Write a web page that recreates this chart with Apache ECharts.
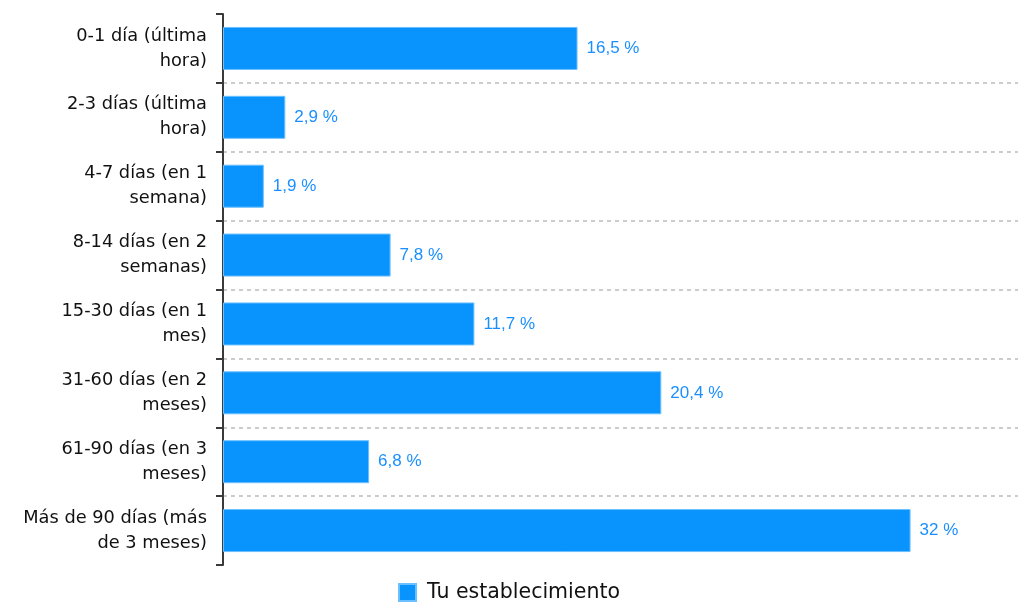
<!DOCTYPE html>
<html>
<head>
<meta charset="utf-8">
<script src="https://cdn.jsdelivr.net/npm/echarts@6/dist/echarts.min.js"></script>
<style>
  html, body { margin: 0; padding: 0; background: #fff; }
  #chart { width: 1018px; height: 603px; }
</style>
</head>
<body>
<div id="chart"></div>
<script>
// Time buckets (top to bottom) and share of bookings per bucket, in percent
const categories = [
  '0-1 día (última\nhora)',
  '2-3 días (última\nhora)',
  '4-7 días (en 1\nsemana)',
  '8-14 días (en 2\nsemanas)',
  '15-30 días (en 1\nmes)',
  '31-60 días (en 2\nmeses)',
  '61-90 días (en 3\nmeses)',
  'Más de 90 días (más\nde 3 meses)'
];
const values = [16.5, 2.9, 1.9, 7.8, 11.7, 20.4, 6.8, 32];
const seriesName = 'Tu establecimiento';

const chart = echarts.init(document.getElementById('chart'));

chart.setOption({
  animation: false,
  grid: { left: 223, right: 0, top: 14, bottom: 38 },
  legend: {
    top: 582,
    left: 'center',
    padding: 0,
    itemWidth: 17,
    itemHeight: 17,
    icon: 'rect',
    textStyle: {
      fontFamily: 'DejaVu Sans',
      fontSize: 20.5,
      color: '#111',
      padding: [0, 0, 0, 6]
    },
    data: [seriesName]
  },
  xAxis: {
    type: 'value',
    min: 0,
    max: 37,
    show: false,
    splitLine: { show: false }
  },
  yAxis: {
    type: 'category',
    inverse: true,
    data: categories,
    axisLine: { show: true, lineStyle: { color: '#3a3a3a', width: 2 } },
    axisTick: { show: true, length: 7, lineStyle: { color: '#3a3a3a', width: 2 } },
    axisLabel: {
      fontFamily: 'DejaVu Sans',
      fontSize: 17.8,
      color: '#111',
      lineHeight: 25,
      align: 'right',
      margin: 16
    },
    splitLine: {
      show: true,
      showMinLine: false,
      showMaxLine: false,
      lineStyle: { color: '#cccccc', type: [4, 4], width: 2 }
    }
  },
  series: [{
    name: seriesName,
    type: 'bar',
    data: values,
    barWidth: 43,
    itemStyle: { color: '#0994fd', borderColor: '#6cc0ff', borderWidth: 1 },
    label: {
      show: true,
      position: 'right',
      distance: 9,
      fontFamily: 'Liberation Sans',
      fontSize: 17,
      color: '#1a8fff',
      formatter: p => String(p.value).replace('.', ',') + ' %'
    }
  }]
});
</script>
</body>
</html>
